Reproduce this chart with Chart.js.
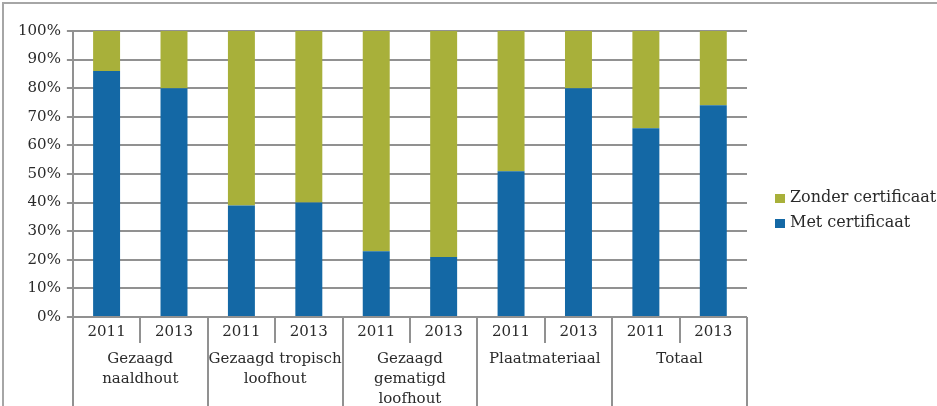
<!DOCTYPE html>
<html>
<head>
<meta charset="utf-8">
<script src="https://cdn.jsdelivr.net/npm/chart.js@4"></script>
<style>
  body { margin: 0; background: #fff; }
  #wrap { position: relative; width: 937px; height: 406px; overflow: hidden; }
  #frame { position: absolute; left: 2px; top: 2px; width: 1000px; height: 500px;
           border-left: 2px solid #a6a6a6; border-top: 2px solid #a6a6a6; }
  canvas { position: absolute; left: 0; top: 0; }
</style>
</head>
<body>
<div id="wrap">
  <div id="frame"></div>
  <canvas id="myChart"></canvas>
</div>
<script>
const years = ['2011', '2013', '2011', '2013', '2011', '2013', '2011', '2013', '2011', '2013'];
const groups = [
    ['Gezaagd', 'naaldhout'],
    ['Gezaagd tropisch', 'loofhout'],
    ['Gezaagd', 'gematigd', 'loofhout'],
    ['Plaatmateriaal'],
    ['Totaal']
];
const metCertificaat = [86, 80, 39, 40, 23, 21, 51, 80, 66, 74];
const zonderCertificaat = [14, 20, 61, 60, 77, 79, 49, 20, 34, 26];

const fontFamily = '"DejaVu Serif", serif';
const textColor = '#2a2a2a';
const lineColor = '#919191';

// dividers + group names under the year labels
const groupAxis = {
    id: 'groupAxis',
    afterDraw(chart) {
        const ctx = chart.ctx;
        const x = chart.scales.x;
        const bottom = chart.chartArea.bottom;
        ctx.save();
        ctx.strokeStyle = lineColor;
        ctx.lineWidth = 2;
        for (let i = 0; i <= years.length; i++) {
            const px = Math.round(x.getPixelForValue(i - 0.5));
            const end = (i % 2 === 0) ? chart.height : bottom + 26;
            ctx.beginPath();
            ctx.moveTo(px, bottom);
            ctx.lineTo(px, end);
            ctx.stroke();
        }
        ctx.fillStyle = textColor;
        ctx.font = '15px ' + fontFamily;
        ctx.textAlign = 'center';
        ctx.textBaseline = 'middle';
        groups.forEach((lines, g) => {
            const cx = (x.getPixelForValue(2 * g) + x.getPixelForValue(2 * g + 1)) / 2;
            lines.forEach((line, k) => {
                ctx.fillText(line, cx, bottom + 42 + k * 20);
            });
        });
        ctx.restore();
    }
};

// legend to the right of the plot, top series first
const sideLegend = {
    id: 'sideLegend',
    afterDraw(chart) {
        const ctx = chart.ctx;
        const left = chart.chartArea.right + 28;
        ctx.save();
        ctx.font = '16px ' + fontFamily;
        ctx.textBaseline = 'middle';
        ctx.textAlign = 'left';
        const sets = chart.data.datasets.slice().reverse();
        sets.forEach((ds, i) => {
            const cy = 198 + i * 25;
            ctx.fillStyle = ds.backgroundColor;
            ctx.fillRect(left, cy - 4, 10, 9);
            ctx.fillStyle = textColor;
            ctx.fillText(ds.label, left + 15, cy);
        });
        ctx.restore();
    }
};

const canvas = document.getElementById('myChart');
canvas.width = 937;
canvas.height = 406;

const myChart = new Chart(canvas, {
    type: 'bar',
    data: {
        labels: years,
        datasets: [{
            label: 'Met certificaat',
            data: metCertificaat,
            backgroundColor: '#1468a5',
            categoryPercentage: 1,
            barPercentage: 0.4
        }, {
            label: 'Zonder certificaat',
            data: zonderCertificaat,
            backgroundColor: '#a8b03a',
            categoryPercentage: 1,
            barPercentage: 0.4
        }]
    },
    options: {
        responsive: false,
        animation: false,
        layout: {
            padding: { left: 12, top: 31, right: 190, bottom: 0 }
        },
        plugins: {
            tooltip: { enabled: false },
            legend: { display: false }
        },
        scales: {
            x: {
                stacked: true,
                grid: { display: false, drawTicks: false },
                border: { display: false },
                ticks: {
                    color: textColor,
                    padding: 6,
                    maxRotation: 0,
                    font: { family: fontFamily, size: 15 }
                },
                afterFit(scale) { scale.height = 89; }
            },
            y: {
                stacked: true,
                min: 0,
                max: 100,
                grid: { color: lineColor, lineWidth: 2, tickLength: 6 },
                border: { display: true, color: lineColor, width: 2 },
                ticks: {
                    stepSize: 10,
                    color: textColor,
                    padding: 6,
                    font: { family: fontFamily, size: 15 },
                    callback: v => v + '%'
                }
            }
        }
    },
    plugins: [groupAxis, sideLegend]
});
</script>
</body>
</html>
